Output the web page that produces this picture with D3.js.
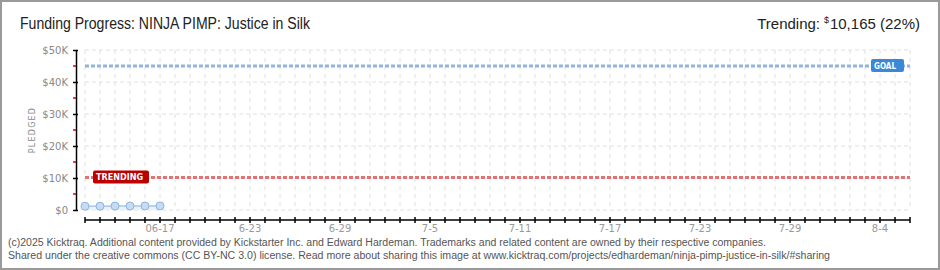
<!DOCTYPE html>
<html><head><meta charset="utf-8">
<script src="https://cdn.jsdelivr.net/npm/d3@7"></script>
<style>body{margin:0;background:#fff;} svg{display:block;}</style>
</head><body>
<svg id="c" width="940" height="270"></svg>
<script>
// ---- data ----
const pledgeDates = ["2025-06-12","2025-06-13","2025-06-14","2025-06-15","2025-06-16","2025-06-17"];
const pledged = [1180, 1210, 1230, 1250, 1260, 1275];
const tickDates = ["2025-06-17","2025-06-23","2025-06-29","2025-07-05","2025-07-11","2025-07-17","2025-07-23","2025-07-29","2025-08-04"];
const tickLabels = ["06-17","6-23","6-29","7-5","7-11","7-17","7-23","7-29","8-4"];
const yTicks = [0, 10000, 20000, 30000, 40000, 50000];
const yTickLabels = ["$0","$10K","$20K","$30K","$40K","$50K"];
const yMinorTicks = [5000, 15000, 25000, 35000, 45000];
const axisStart = "2025-06-12", axisEnd = "2025-08-06";
const goal = 45000;
const trending = 10165;
const trendingPct = "22%";
const title = "Funding Progress: NINJA PIMP: Justice in Silk";
const footer1 = "(c)2025 Kicktraq. Additional content provided by Kickstarter Inc. and Edward Hardeman. Trademarks and related content are owned by their respective companies.";
const footer2 = "Shared under the creative commons (CC BY-NC 3.0) license. Read more about sharing this image at www.kicktraq.com/projects/edhardeman/ninja-pimp-justice-in-silk/#sharing";

const parse = d3.timeParse("%Y-%m-%d");
const svg = d3.select("#c");
const x = d3.scaleTime().domain([parse(axisStart), parse(axisEnd)]).range([85, 910]);
const y = d3.scaleLinear().domain([0, 50000]).range([210, 50]);
const days = d3.timeDay.range(parse(axisStart), d3.timeDay.offset(parse(axisEnd), 1));
const sans = "Liberation Sans, Arial, sans-serif";

// border
svg.append("rect").attr("x",1).attr("y",1).attr("width",938).attr("height",268)
  .attr("fill","#fff").attr("stroke","#9a9a9a").attr("stroke-width",2);

// title
svg.append("text").attr("x",20).attr("y",29).attr("font-family",sans)
  .attr("font-size",16).attr("fill","#222").attr("textLength",290).attr("lengthAdjust","spacingAndGlyphs").text(title);
svg.append("text").attr("x",920).attr("y",29).attr("text-anchor","end").attr("font-family",sans)
  .attr("font-size",15).attr("fill","#222").text(d3.format(",")(trending) + " (" + trendingPct + ")");
svg.append("text").attr("x",829).attr("y",23).attr("text-anchor","end").attr("font-family",sans)
  .attr("font-size",9).attr("fill","#222").text("$");
svg.append("text").attr("x",820).attr("y",29).attr("text-anchor","end").attr("font-family",sans)
  .attr("font-size",15).attr("fill","#222").text("Trending:");

// grid
const g = svg.append("g");
g.selectAll("line.vg").data(days).join("line").attr("class","vg")
  .attr("x1",d=>x(d)).attr("x2",d=>x(d)).attr("y1",50).attr("y2",210)
  .attr("stroke","#e0e0e0").attr("stroke-dasharray","4,4");
g.selectAll("line.hg").data(yTicks).join("line").attr("class","hg")
  .attr("x1",85).attr("x2",910).attr("y1",d=>y(d)).attr("y2",d=>y(d))
  .attr("stroke","#e0e0e0").attr("stroke-dasharray","4,3");

// y axis
const yAxis = svg.append("g").attr("transform","translate(76,0)")
  .call(d3.axisLeft(y).tickValues(yTicks).tickFormat((d,i)=>yTickLabels[i]).tickSizeInner(3).tickSizeOuter(0).tickPadding(5));
yAxis.select(".domain").attr("stroke","#000").attr("stroke-width",1.5);
yAxis.selectAll(".tick line").attr("stroke","#000").attr("x2",-3).attr("x1",2).attr("stroke-width",1.5);
yAxis.selectAll(".tick text").attr("font-family","DejaVu Sans, sans-serif").attr("font-size",10).attr("fill","#888");
svg.append("g").selectAll("line").data(yMinorTicks).join("line")
  .attr("x1",73).attr("x2",76).attr("y1",d=>y(d)).attr("y2",d=>y(d)).attr("stroke","#e00000").attr("stroke-width",1.5);
svg.append("text").attr("transform","translate(35,130) rotate(-90)").attr("text-anchor","middle")
  .attr("font-family","DejaVu Sans, sans-serif").attr("font-size",8).attr("letter-spacing",1.2).attr("fill","#888").text("PLEDGED");

// x axis
const xAxisG = svg.append("g").attr("transform","translate(0,220)");
xAxisG.append("line").attr("x1",85).attr("x2",910).attr("stroke","#000").attr("stroke-width",1.5);
xAxisG.selectAll("line.t").data(days).join("line").attr("class","t")
  .attr("x1",d=>x(d)).attr("x2",d=>x(d)).attr("y1",-3).attr("y2",3).attr("stroke","#000").attr("stroke-width",1.5);
xAxisG.selectAll("text").data(tickDates).join("text")
  .attr("x",d=>x(parse(d))).attr("y",12).attr("text-anchor","middle")
  .attr("font-family","DejaVu Sans, sans-serif").attr("font-size",10).attr("fill","#999")
  .text((d,i)=>tickLabels[i]);

// reference lines
function refLine(val, color) {
  svg.append("line").attr("x1",85).attr("x2",910).attr("y1",y(val)).attr("y2",y(val))
    .attr("stroke",color).attr("stroke-width",3).attr("stroke-dasharray","4,2");
}
refLine(goal, "#93b4dc");
refLine(trending, "#e07474");

// data area/line/points
const pts = pledgeDates.map((d,i)=>({d:parse(d), v:pledged[i]}));
svg.append("path").datum(pts).attr("fill","#eaf2fb")
  .attr("d", d3.area().x(p=>x(p.d)).y0(y(0)).y1(p=>y(p.v)));
svg.append("path").datum(pts).attr("fill","none").attr("stroke","#a9c8ec").attr("stroke-width",1.5)
  .attr("d", d3.line().x(p=>x(p.d)).y(p=>y(p.v)));
svg.selectAll("circle.p").data(pts).join("circle").attr("class","p")
  .attr("cx",p=>x(p.d)).attr("cy",p=>y(p.v)).attr("r",4)
  .attr("fill","#c6dcf5").attr("stroke","#8db4e2").attr("stroke-width",1);

// labels
function badge(bx, by, w, h, fill, txt, tl) {
  svg.append("rect").attr("x",bx).attr("y",by).attr("width",w).attr("height",h).attr("rx",2).attr("fill",fill);
  svg.append("text").attr("x",bx+3).attr("y",by+h/2+3.5).attr("font-family","DejaVu Sans, sans-serif")
    .attr("font-size",9).attr("font-weight","bold").attr("fill","#fff").attr("textLength",tl).attr("lengthAdjust","spacingAndGlyphs").text(txt);
}
badge(871, y(goal)-7, 33, 13, "#3a88d6", "GOAL", 22);
badge(93, y(trending)-7, 56, 13, "#bb0000", "TRENDING", 47);

// footer
svg.append("text").attr("x",8).attr("y",246).attr("font-family",sans)
  .attr("font-size",10).attr("fill","#555").attr("textLength",758).attr("lengthAdjust","spacingAndGlyphs").text(footer1);
svg.append("text").attr("x",8).attr("y",259).attr("font-family",sans)
  .attr("font-size",10).attr("fill","#555").attr("textLength",822).attr("lengthAdjust","spacingAndGlyphs").text(footer2);
</script>
</body></html>
